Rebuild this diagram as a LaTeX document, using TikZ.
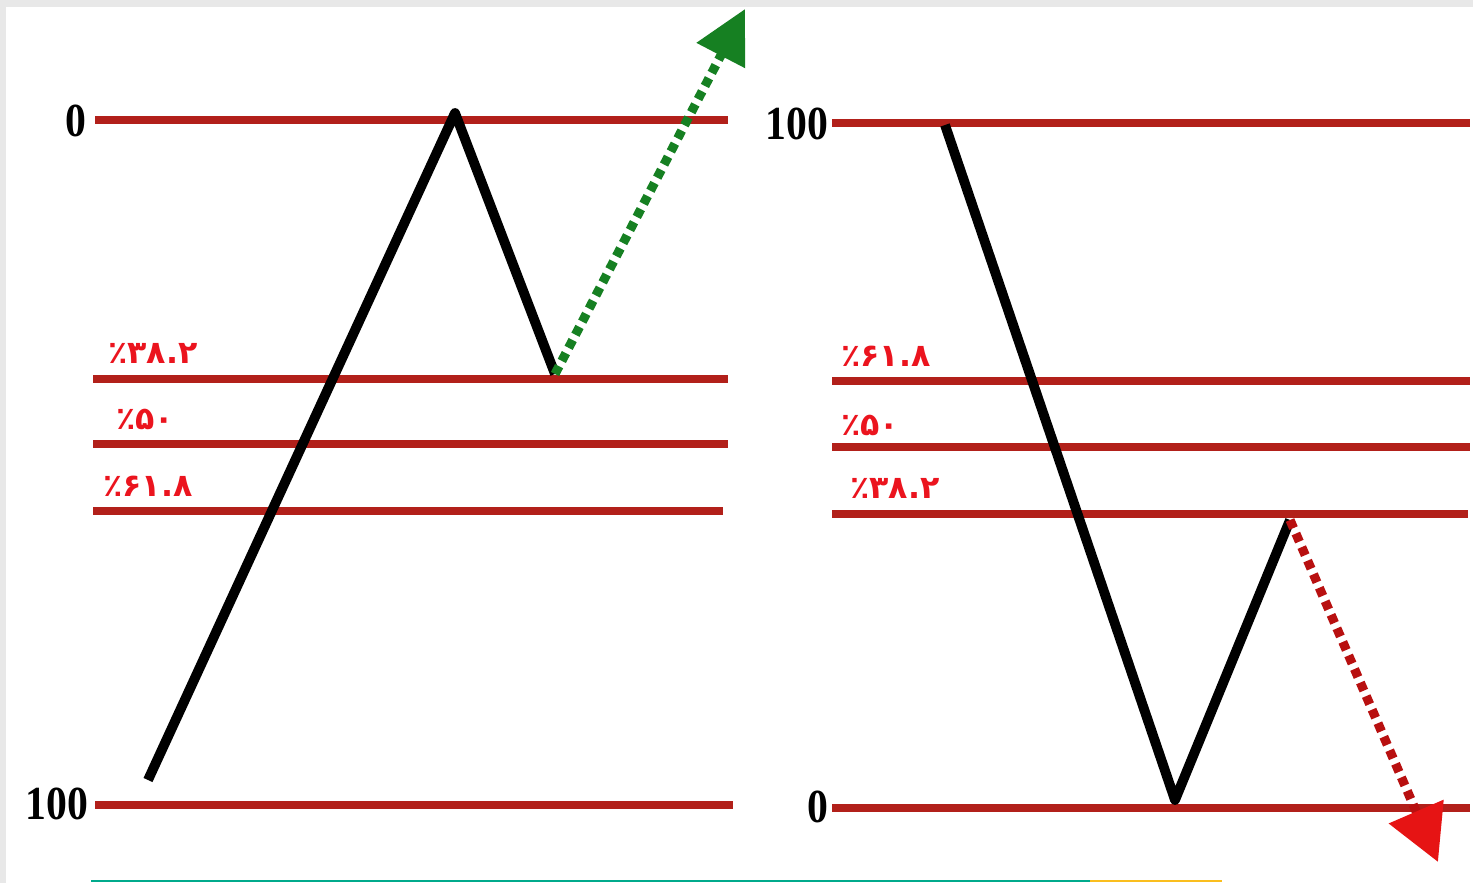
\documentclass[tikz,border=0pt]{standalone}
\usepackage{fontspec}
\setmainfont{Liberation Serif}
\newfontfamily\arabicfont[Script=Arabic]{DejaVu Sans}
\usetikzlibrary{arrows.meta}
\definecolor{fiboline}{RGB}{178,32,26}
\definecolor{fibotext}{RGB}{235,20,30}
\definecolor{upgreen}{RGB}{22,128,34}
\definecolor{downred}{RGB}{230,20,20}
\definecolor{framegray}{RGB}{232,232,232}
\definecolor{rulea}{RGB}{0,170,140}
\definecolor{ruleb}{RGB}{250,190,30}

\begin{document}
\begin{tikzpicture}[
    x=0.02cm, y=-0.02cm,
    level/.style={draw=fiboline, line width=4.6pt},
    swing/.style={draw=black, line width=5.6pt, line join=round},
    pct/.style={text=fibotext, font=\arabicfont\bfseries\fontsize{18}{18}\selectfont, inner sep=0pt},
    endval/.style={text=black, font=\bfseries\fontsize{27}{27}\selectfont, inner sep=0pt, xscale=0.88},
    uparrow/.style={draw=upgreen, line width=5.2pt, dash pattern=on 5pt off 3.4pt, -{Triangle[length=1.05cm, width=1.05cm, color=upgreen]}},
    downarrow/.style={draw=downred!80!black, line width=5.2pt, dash pattern=on 5pt off 3.4pt, -{Triangle[length=1.1cm, width=1.15cm, color=downred]}}
]
% frame
\fill[framegray] (0,0) rectangle (1473,883);
\fill[white] (6,7) rectangle (1473,883);
\useasboundingbox (0,0) rectangle (1473,883);

% left panel: levels
\coordinate (lzeroA) at (95,120);   \coordinate (lzeroB) at (728,120);
\coordinate (lthreeA) at (93,379);  \coordinate (lthreeB) at (728,379);
\coordinate (lfiveA) at (93,444);   \coordinate (lfiveB) at (728,444);
\coordinate (lsixA) at (93,511);    \coordinate (lsixB) at (723,511);
\coordinate (lhundA) at (95,805);   \coordinate (lhundB) at (733,805);
\draw[level] (lzeroA) -- (lzeroB);
\draw[level] (lthreeA) -- (lthreeB);
\draw[level] (lfiveA) -- (lfiveB);
\draw[level] (lsixA) -- (lsixB);
\draw[level] (lhundA) -- (lhundB);
\node[endval] (lzero) at (76,121) {0};
\node[endval] (lhund) at (57,804) {100};
\node[pct] (lthree) at (153,353) {٪۳۸.۲};
\node[pct] (lfive) at (145,419) {٪۵۰};
\node[pct] (lsix) at (148,486) {٪۶۱.۸};

% left panel: swing and breakout
\coordinate (lstart) at (148,780);
\coordinate (lpeak) at (455,113);
\coordinate (lpull) at (555,374);
\coordinate (lgoal) at (745,9);
\draw[swing] (lstart) -- (lpeak) -- (lpull);
\draw[uparrow] (lpull) -- (lgoal);

% right panel: levels
\coordinate (rhundA) at (832,123);  \coordinate (rhundB) at (1470,123);
\coordinate (rsixA) at (832,381);   \coordinate (rsixB) at (1470,381);
\coordinate (rfiveA) at (832,447);  \coordinate (rfiveB) at (1470,447);
\coordinate (rthreeA) at (832,514); \coordinate (rthreeB) at (1468,514);
\coordinate (rzeroA) at (832,808);  \coordinate (rzeroB) at (1470,808);
\draw[level] (rhundA) -- (rhundB);
\draw[level] (rsixA) -- (rsixB);
\draw[level] (rfiveA) -- (rfiveB);
\draw[level] (rthreeA) -- (rthreeB);
\draw[level] (rzeroA) -- (rzeroB);
\node[endval] (rhund) at (797,124) {100};
\node[endval] (rzero) at (818,807) {0};
\node[pct] (rsix) at (886,356) {٪۶۱.۸};
\node[pct] (rfive) at (870,425) {٪۵۰};
\node[pct] (rthree) at (895,488) {٪۳۸.۲};

% right panel: swing and breakdown
\coordinate (rstart) at (945,125);
\coordinate (rlow) at (1175,800);
\coordinate (rpull) at (1290,520);
\coordinate (rgoal) at (1438,862);
\draw[swing] (rstart) -- (rlow) -- (rpull);
\draw[downarrow] (rpull) -- (rgoal);

% bottom rule
\coordinate (ruleA) at (91,881); \coordinate (ruleB) at (1090,881); \coordinate (ruleC) at (1222,881);
\draw[rulea, line width=1.4pt] (ruleA) -- (ruleB);
\draw[ruleb, line width=1.4pt] (ruleB) -- (ruleC);
\end{tikzpicture}
\end{document}
